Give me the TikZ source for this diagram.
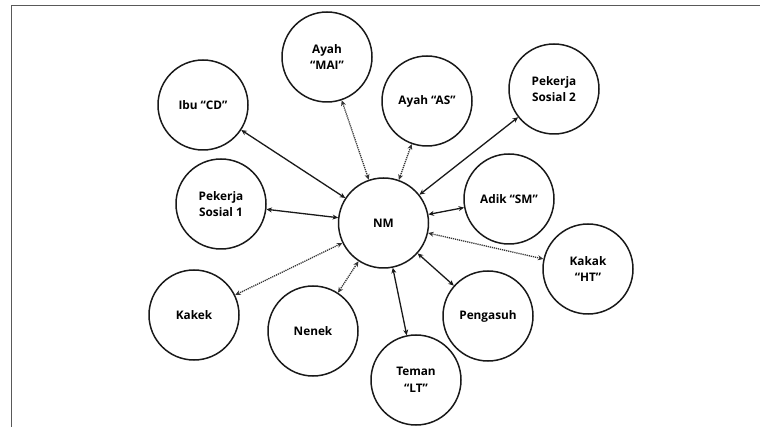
\documentclass[tikz,border=0pt]{standalone}
\usepackage{fontspec}
\setmainfont{Open Sans}
\usetikzlibrary{arrows.meta}
\begin{document}
\begin{tikzpicture}[x=1pt,y=-1pt,
  person/.style={circle,draw=black!90,line width=1.5pt,minimum size=90pt,inner sep=0pt,align=center,
    font=\fontsize{11.8}{16.8}\selectfont\bfseries},
  tie/.style={line width=1.3pt,draw=black!90,{Stealth[length=5.5pt,width=5pt]}-{Stealth[length=5.5pt,width=5pt]}},
  weak/.style={tie,draw=black!80,dash pattern=on 1.2pt off 0.9pt},
  frameline/.style={line width=1.5pt,draw=black!65}
]
\useasboundingbox (0,0) rectangle (760,427);
\draw[frameline] (11.5,427) -- (11.5,5.5) -- (760,5.5);

\node[person] (nm)   at (383.5,223) {NM};
\node[person] (ibu)  at (203,105) {Ibu “CD”};
\node[person] (mai)  at (327,57)  {Ayah\\“MAI”};
\node[person] (ps1)  at (221,204) {Pekerja\\Sosial 1};
\node[person] (as)   at (427,101) {Ayah “AS”};
\node[person] (ps2)  at (554,89)  {Pekerja\\Sosial 2};
\node[person] (sm)   at (509,199) {Adik “SM”};
\node[person] (ht)   at (588,269) {Kakak\\“HT”};
\node[person] (peng) at (488,316) {Pengasuh};
\node[person] (lt)   at (416,380) {Teman\\“LT”};
\node[person] (kkk)  at (194,315) {Kakek};
\node[person] (nnk)  at (313,331) {Nenek};

\draw[tie]  (ibu)  -- (nm);
\draw[weak] (mai)  -- (nm);
\draw[tie]  (ps1)  -- (nm);
\draw[weak] (kkk)  -- (nm);
\draw[weak] (nnk)  -- (nm);
\draw[tie]  (lt)   -- (nm);
\draw[tie]  (peng) -- (nm);
\draw[weak] (ht)   -- (nm);
\draw[tie]  (sm)   -- (nm);
\draw[tie]  (ps2)  -- (nm);
\draw[weak] (as)   -- (nm);
\end{tikzpicture}
\end{document}
